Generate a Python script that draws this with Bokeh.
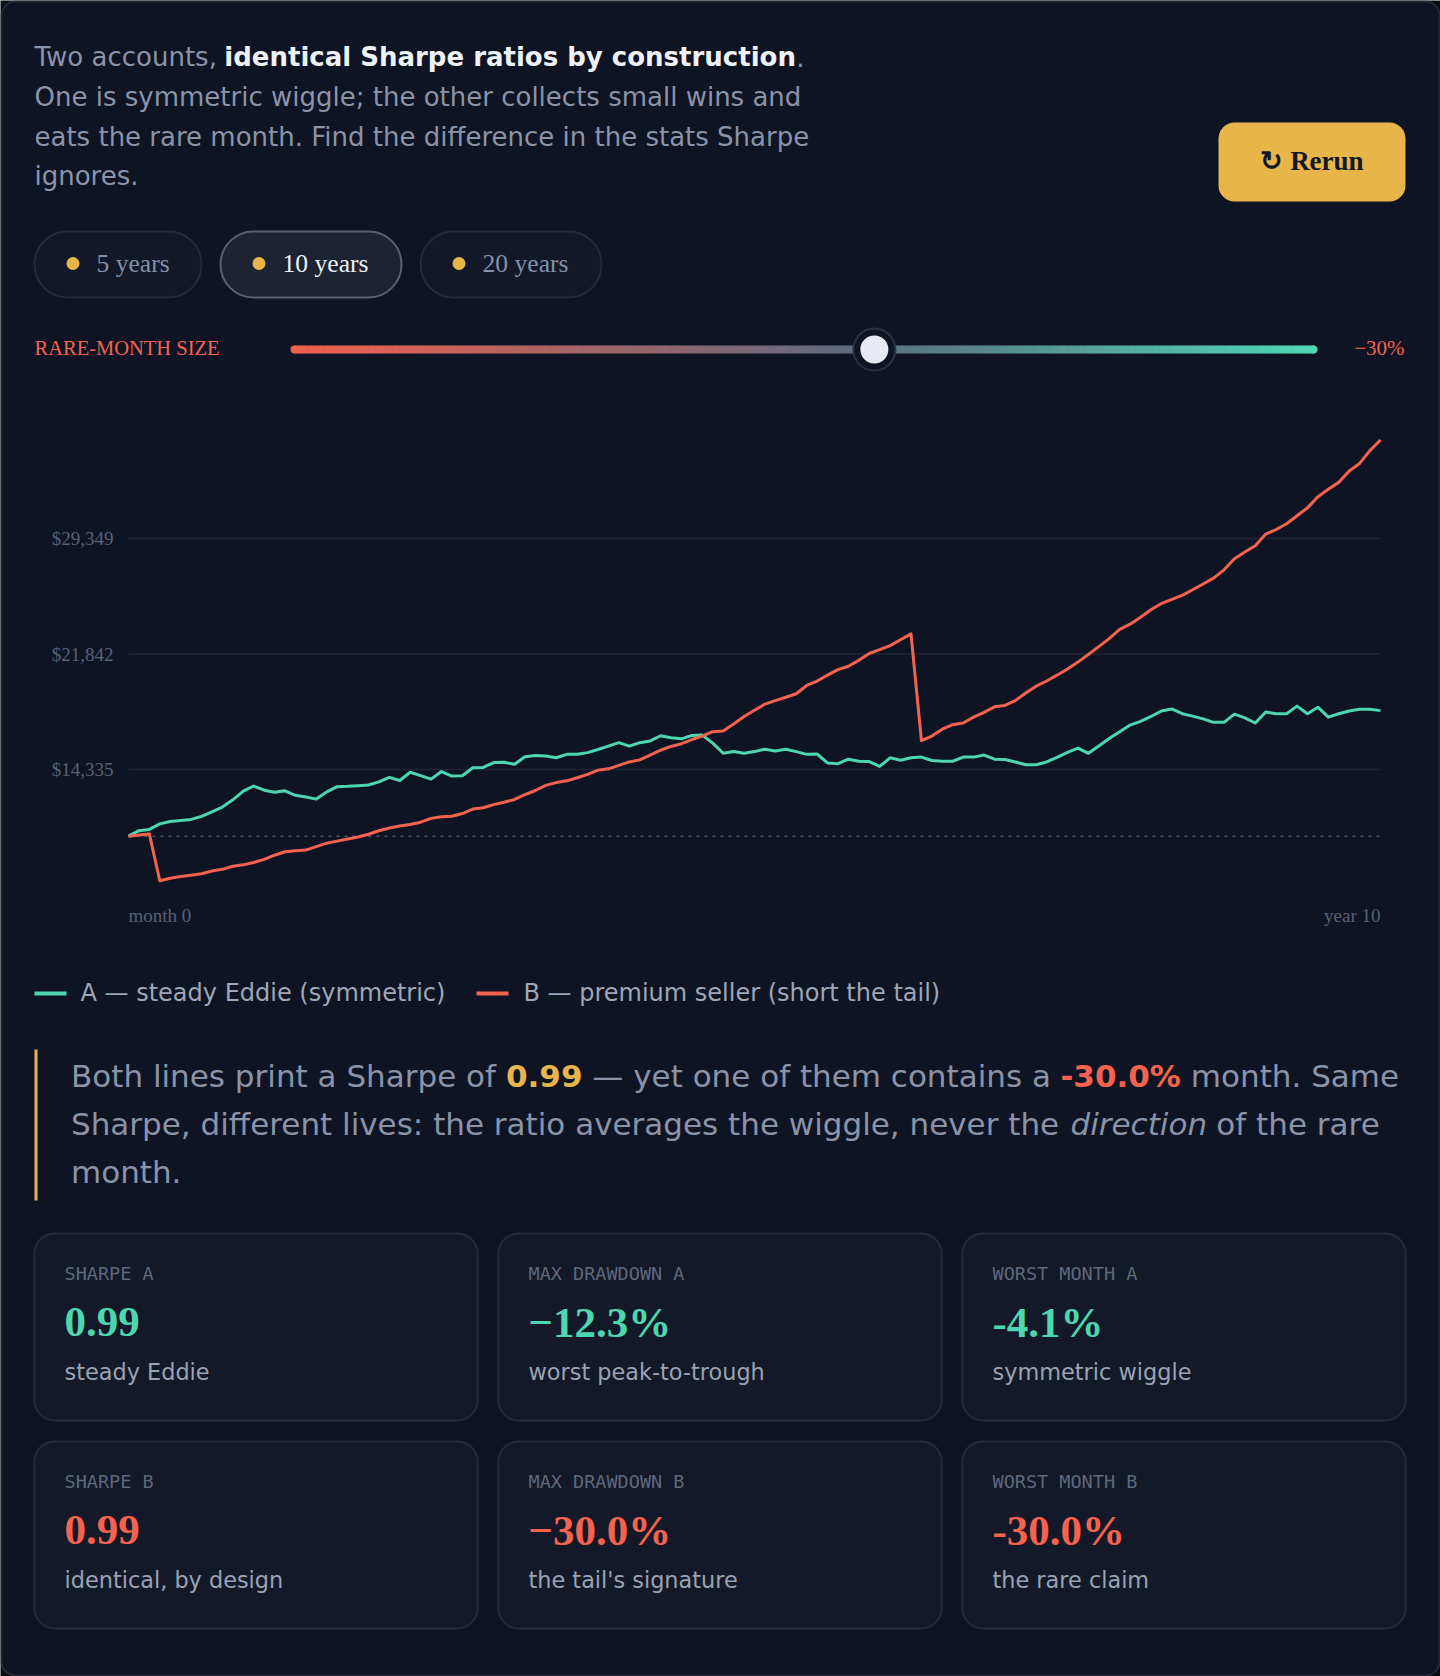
from bokeh.plotting import figure
from bokeh.models import Range1d
from bokeh.core.properties import value
from bokeh.embed import file_html
from bokeh.resources import INLINE

# ---------------- data ----------------
months = list(range(121))

equity_a = [
    10000, 10358, 10442, 10800, 10956, 11023, 11090, 11292, 11583, 11896,
    12366, 12925, 13261, 12992, 12858, 12948, 12657, 12545, 12411, 12881,
    13216, 13239, 13283, 13328, 13530, 13820, 13619, 14156, 13932, 13709,
    14201, 13910, 13932, 14447, 14469, 14783, 14805, 14671, 15163, 15252,
    15208, 15096, 15320, 15320, 15431, 15633, 15857, 16080, 15857, 16080,
    16192, 16528, 16394, 16327, 16550, 16573, 16050, 15390, 15499, 15387,
    15499, 15655, 15543, 15655, 15499, 15320, 15342, 14760, 14715, 15006,
    14872, 14850, 14535, 15096, 14939, 15096, 15141, 14917, 14872, 14872,
    15141, 15141, 15275, 15006, 14984, 14827, 14648, 14648, 14827, 15118,
    15454, 15722, 15387, 15857, 16349, 16796, 17222, 17468, 17781, 18139,
    18273, 17960, 17803, 17624, 17400, 17400, 17937, 17691, 17356, 18072,
    17960, 17960, 18452, 17960, 18385, 17736, 17960, 18139, 18251, 18251,
    18161,
]

equity_b = [
    10000, 10080, 10150, 7105, 7264, 7376, 7466, 7555, 7734, 7846,
    8047, 8137, 8293, 8495, 8763, 8987, 9054, 9099, 9323, 9547,
    9681, 9815, 9949, 10128, 10352, 10531, 10665, 10755, 10911, 11158,
    11270, 11292, 11471, 11762, 11851, 12053, 12209, 12388, 12702, 12970,
    13306, 13485, 13597, 13798, 14022, 14290, 14380, 14603, 14827, 14962,
    15275, 15588, 15834, 16013, 16282, 16505, 16796, 16841, 17289, 17781,
    18184, 18587, 18810, 19034, 19258, 19795, 20086, 20466, 20824, 21048,
    21428, 21876, 22122, 22390, 22771, 23151, 16206, 16505, 16953, 17244,
    17356, 17736, 18049, 18407, 18497, 18810, 19302, 19750, 20086, 20466,
    20869, 21316, 21808, 22323, 22838, 23442, 23778, 24225, 24717, 25120,
    25389, 25657, 26015, 26396, 26776, 27313, 28029, 28477, 28880, 29640,
    29931, 30312, 30826, 31341, 32057, 32550, 32997, 33736, 34228, 35078,
    35749,
]

start_equity = 10000
y_ticks = [14335, 21842, 29349]
y_tick_labels = ["$14,335", "$21,842", "$29,349"]
x_end_labels = ["month 0", "year 10"]

horizons = ["5 years", "10 years", "20 years"]
active_horizon = "10 years"

slider_min, slider_max = -70, 0
rare_month_pct = -30
sharpe_both = 0.99

legend_labels = ["A \u2014 steady Eddie (symmetric)", "B \u2014 premium seller (short the tail)"]

stat_labels = ["SHARPE A", "MAX DRAWDOWN A", "WORST MONTH A",
               "SHARPE B", "MAX DRAWDOWN B", "WORST MONTH B"]
stat_values = ["0.99", "\u221212.3%", "-4.1%",
               "0.99", "\u221230.0%", "-30.0%"]
stat_notes = ["steady Eddie", "worst peak-to-trough", "symmetric wiggle",
              "identical, by design", "the tail's signature", "the rare claim"]
stat_series = ["A", "A", "A", "B", "B", "B"]

# ---------------- palette ----------------
OUTSIDE = "#0a0c13"
BG = "#0f1424"
CARD_LINE = "#222837"
PANEL = "#131928"
PANEL_LINE = "#252b3b"
MUTED = "#8a93a8"
BRIGHT = "#eef1f6"
GOLD = "#e8b54a"
TEAL = "#4dd6b0"
RED = "#f5634f"
GRID = "#1f2535"
AXIS_TXT = "#586176"
LABEL_TXT = "#5f687c"
NOTE_TXT = "#9aa2b4"

SANS = value("DejaVu Sans")
SERIF = value("Liberation Serif")
MONO = value("DejaVu Sans Mono")

W, H = 1440, 1676

p = figure(width=W, height=H, x_range=Range1d(0, W), y_range=Range1d(H, 0),
           output_backend="svg", toolbar_location=None, min_border=0,
           x_axis_location=None, y_axis_location=None,
           background_fill_color=OUTSIDE, border_fill_color=OUTSIDE,
           outline_line_color=None)
p.grid.visible = False


def txt(x, y, s, color, size, font=SANS, align="left", style="normal", rng=None):
    kw = {}
    if rng is not None:
        kw["y_range_name"] = rng
    xs = x if isinstance(x, list) else [x]
    ys = y if isinstance(y, list) else [y]
    ss = s if isinstance(s, list) else [s]
    p.text(x=xs, y=ys, text=ss, text_color=color, text_font=font,
           text_font_size=f"{size}px", text_align=align, text_baseline="middle",
           text_font_style=style, **kw)


# outer card
p.quad(left=[1], right=[W - 1], top=[1], bottom=[H - 1], fill_color=BG,
       line_color=CARD_LINE, line_width=2, border_radius=14)

# ---------------- intro ----------------
F_INTRO = 26
x_bold = 34 + 7.3 * F_INTRO
x_dot = x_bold + 22.0 * F_INTRO
txt(34, 56, "Two accounts,", MUTED, F_INTRO)
txt(x_bold, 56, "identical Sharpe ratios by construction", BRIGHT, F_INTRO, style="bold")
txt(x_dot, 56, ".", MUTED, F_INTRO)
txt([34, 34, 34], [96, 136, 175.5],
    ["One is symmetric wiggle; the other collects small wins and",
     "eats the rare month. Find the difference in the stats Sharpe",
     "ignores."], MUTED, F_INTRO)

# rerun button
p.quad(left=[1218], right=[1405], top=[122], bottom=[201], fill_color=GOLD,
       line_color=None, border_radius=16)
txt(1311.5, 160, "\u21bb Rerun", "#131826", 27, font=SERIF, align="center", style="bold")

# ---------------- horizon pills ----------------
pill_left = [34, 220, 420]
pill_right = [201, 401, 601]
for i, h in enumerate(horizons):
    on = h == active_horizon
    p.quad(left=[pill_left[i]], right=[pill_right[i]], top=[231], bottom=[297],
           fill_color="#1e2334" if on else "#121827",
           line_color="#5b606e" if on else "#252b3a", line_width=2, border_radius=33)
    p.scatter(x=[pill_left[i] + 38.5], y=[263], size=13, marker="circle",
              fill_color=GOLD, line_color=None)
    txt(pill_left[i] + 62, 263, h, BRIGHT if on else "#8491ad", 25.6, font=SERIF)

# ---------------- rare-month slider ----------------
TR_L, TR_R, TR_Y = 290, 1317, 349
THUMB_R = 21
sl_px0, sl_px1 = TR_L + THUMB_R, TR_R - THUMB_R
upp = (slider_max - slider_min) / (sl_px1 - sl_px0)
p.extra_x_ranges["slider"] = Range1d(slider_min - sl_px0 * upp, slider_max + (W - sl_px1) * upp)


def hex2rgb(h):
    return tuple(int(h[i:i + 2], 16) for i in (1, 3, 5))


stops = [(0.0, hex2rgb("#f2604d")), (0.55, hex2rgb("#5c6a80")), (1.0, hex2rgb("#4fd8b3"))]


def grad(t):
    for (t0, c0), (t1, c1) in zip(stops[:-1], stops[1:]):
        if t <= t1:
            u = (t - t0) / (t1 - t0)
            return "#%02x%02x%02x" % tuple(int(round(a + (b - a) * u)) for a, b in zip(c0, c1))
    return "#%02x%02x%02x" % stops[-1][1]


n_seg = 240
seg_w = (TR_R - TR_L - 8) / n_seg
lefts = [TR_L + 4 + i * seg_w for i in range(n_seg)]
p.quad(left=lefts, right=[l + seg_w + 0.6 for l in lefts], top=[TR_Y - 4] * n_seg,
       bottom=[TR_Y + 4] * n_seg, fill_color=[grad((i + 0.5) / n_seg) for i in range(n_seg)],
       line_color=None)
p.scatter(x=[TR_L + 4, TR_R - 4], y=[TR_Y, TR_Y], size=8, marker="circle",
          fill_color=[grad(0), grad(1)], line_color=None)
p.scatter(x=[rare_month_pct], y=[TR_Y], x_range_name="slider", size=2 * THUMB_R,
          marker="circle", fill_color=BG, line_color="#2a3142", line_width=2)
p.scatter(x=[rare_month_pct], y=[TR_Y], x_range_name="slider", size=28,
          marker="circle", fill_color="#e7eaf3", line_color=None)
txt(34, 347, "RARE-MONTH SIZE", RED, 20.5, font=SERIF)
txt(1404, 347, f"\u2212{abs(rare_month_pct)}%", RED, 21, font=SERIF, align="right")

# ---------------- equity chart ----------------
CH_L, CH_R = 128, 1380
CH_TOP, CH_BOT = 422.5, 884.5
step = y_ticks[1] - y_ticks[0]
v_lo, v_hi = y_ticks[0] - step, y_ticks[-1] + step
ppm = (CH_R - CH_L) / (months[-1] - months[0])
p.extra_x_ranges["month"] = Range1d(months[0] - CH_L / ppm, months[-1] + (W - CH_R) / ppm)
vpp = (v_hi - v_lo) / (CH_BOT - CH_TOP)
p.extra_y_ranges["usd"] = Range1d(v_lo - (H - CH_BOT) * vpp, v_hi + CH_TOP * vpp)

p.segment(x0=[months[0]] * 3, x1=[months[-1]] * 3, y0=y_ticks, y1=y_ticks,
          x_range_name="month", y_range_name="usd", line_color=GRID, line_width=1.5)
p.segment(x0=[months[0]], x1=[months[-1]], y0=[start_equity], y1=[start_equity],
          x_range_name="month", y_range_name="usd", line_color="#4e5668",
          line_width=1.5, line_dash="3 5")
p.line(months, equity_a, x_range_name="month", y_range_name="usd",
       line_color=TEAL, line_width=3, line_join="round")
p.line(months, equity_b, x_range_name="month", y_range_name="usd",
       line_color=RED, line_width=3, line_join="round")

txt([113] * 3, y_ticks, y_tick_labels, AXIS_TXT, 19, font=SERIF, align="right", rng="usd")
txt(CH_L, 915, x_end_labels[0], AXIS_TXT, 19, font=SERIF)
txt(CH_R, 915, x_end_labels[1], AXIS_TXT, 19, font=SERIF, align="right")

# legend
p.quad(left=[34, 476], right=[66, 508], top=[991, 991], bottom=[995, 995],
       fill_color=[TEAL, RED], line_color=None)
txt([80, 523], [992, 992], legend_labels, "#9ea6b7", 24)

# ---------------- callout ----------------
p.quad(left=[34], right=[37], top=[1049], bottom=[1200], fill_color=GOLD, line_color=None)
F_CALL = 31
SP = 0.318 * F_CALL  # width of one space
y1, y2, y3 = 1075, 1123, 1171
txt(70.5, y1, "Both lines print a Sharpe of", MUTED, F_CALL)
txt(505.5, y1, f"{sharpe_both:.2f}", GOLD, F_CALL, style="bold")
txt(582 + SP, y1, "\u2014 yet one of them contains a", MUTED, F_CALL)
txt(1060, y1, f"{rare_month_pct:.1f}%", RED, F_CALL, style="bold")
txt(1180.5 + SP, y1, "month. Same", MUTED, F_CALL)
txt(70.5, y2, "Sharpe, different lives: the ratio averages the wiggle, never the", MUTED, F_CALL)
txt(1070, y2, "direction", MUTED, F_CALL, style="italic")
txt(1206 + SP, y2, "of the rare", MUTED, F_CALL)
txt(70.5, y3, "month.", MUTED, F_CALL)

# ---------------- stat cards ----------------
col_l = [34, 498, 962]
col_w = 443
row_t = [1233, 1441]
row_h = 187
for k in range(6):
    r, c = divmod(k, 3)
    x0, t0 = col_l[c], row_t[r]
    p.quad(left=[x0], right=[x0 + col_w], top=[t0], bottom=[t0 + row_h],
           fill_color=PANEL, line_color=PANEL_LINE, line_width=2, border_radius=20)
    col = TEAL if stat_series[k] == "A" else RED
    txt(x0 + 30, t0 + 39.5, stat_labels[k], LABEL_TXT, 18.5, font=MONO)
    txt(x0 + 30, t0 + 88.5, stat_values[k], col, 43, font=SERIF, style="bold")
    txt(x0 + 30, t0 + 138.5, stat_notes[k], NOTE_TXT, 22.4)

open("out.html", "w").write(file_html(p, INLINE))
